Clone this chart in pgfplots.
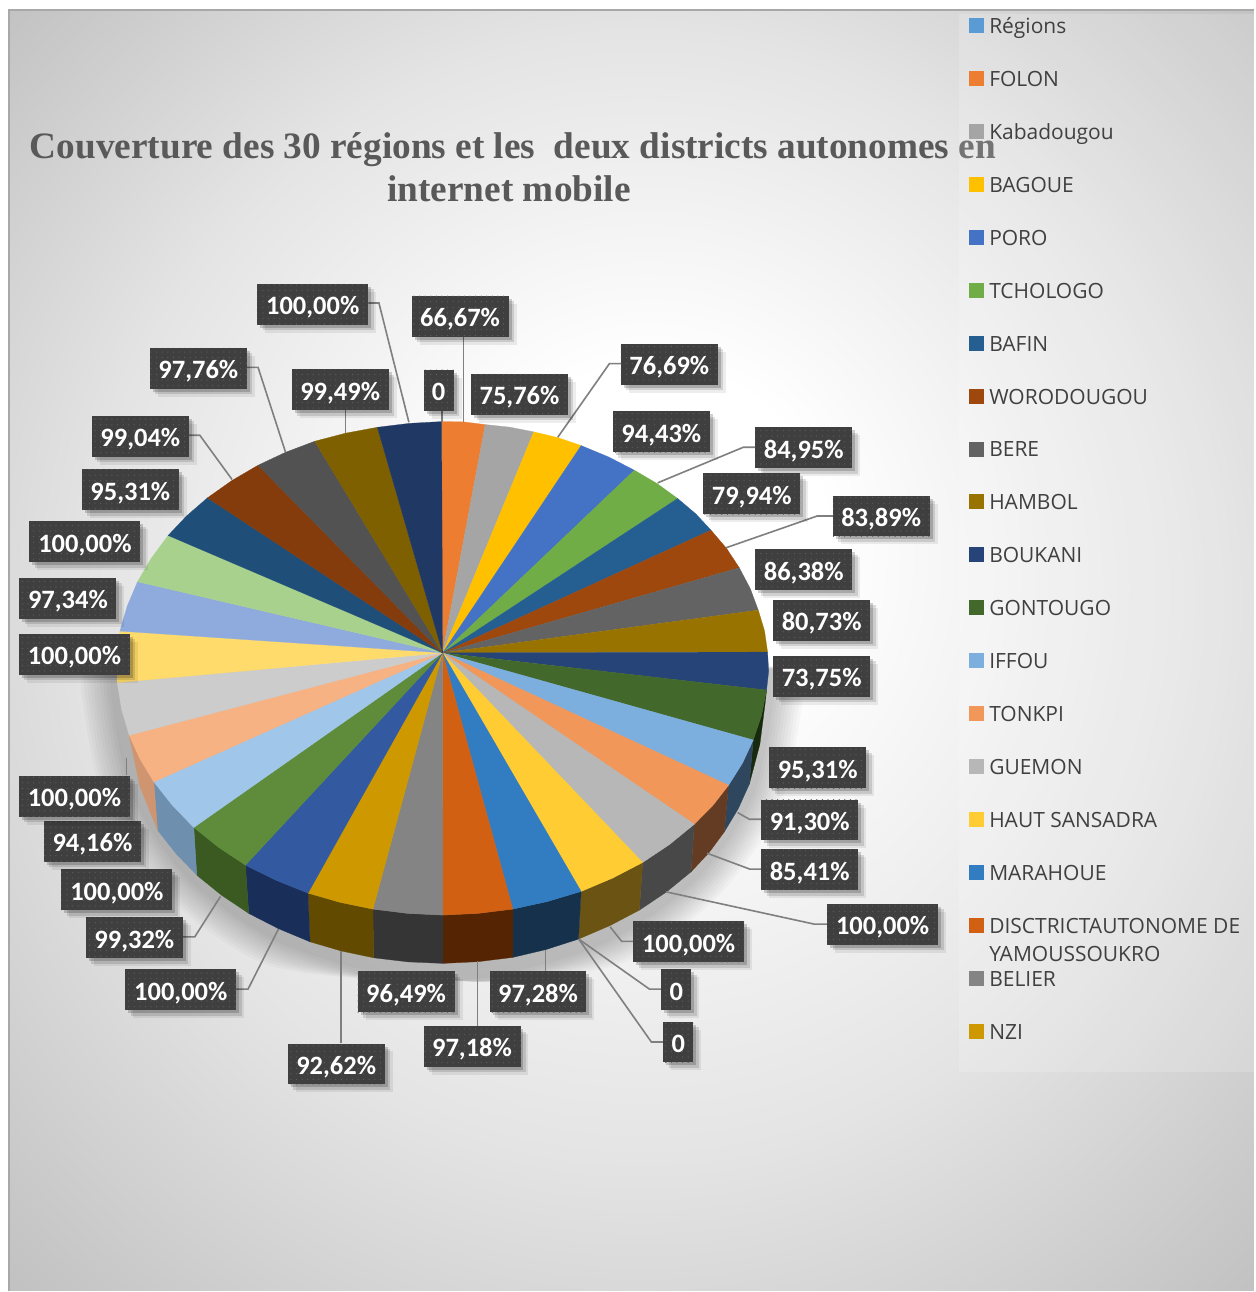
\documentclass[border=0pt]{standalone}
\usepackage{fontspec}
\usepackage{pgfplots}
\usepackage{pgfplotstable}
\usetikzlibrary{shadows,patterns.meta}
\pgfplotsset{compat=1.18}
\setmainfont{Liberation Serif}
\newfontfamily\labfont{Carlito}
\newfontfamily\legfont{Open Sans}

\definecolor{labbg}{HTML}{3F3F3F}
\definecolor{labdot}{HTML}{5E5E5E}
\definecolor{lead}{HTML}{7F7F7F}
\definecolor{bgA}{HTML}{E4E4E4}
\definecolor{bgB}{HTML}{BBBBBB}
\definecolor{titlec}{HTML}{595959}
\definecolor{legc}{HTML}{404040}
\pgfdeclareradialshading{bgshade}{\pgfpoint{1bp}{5bp}}{color(0bp)=(white);color(7bp)=(white);color(22bp)=(bgA);color(38bp)=(bgB)}

% shadow outline, relative to (443,700)
\pgfplotstableread{
x y
325 -30
325 0
305 94
249 177
162 238
56 271
0 275
-56 271
-162 238
-249 177
-305 94
-325 0
-325 -30
}\shadowtab

\tikzset{
  lab/.style={fill=labbg,text=white,inner sep=0pt,minimum height=41pt,minimum width=#1,
    text height=21pt,text depth=0pt,
    font=\labfont\bfseries\fontsize{26.5}{26.5}\selectfont,
    drop shadow={shadow xshift=8pt,shadow yshift=-8pt,opacity=.07,fill=black},
    drop shadow={shadow xshift=5.5pt,shadow yshift=-5.5pt,opacity=.12,fill=black},
    drop shadow={shadow xshift=3pt,shadow yshift=-3pt,opacity=.18,fill=black},
    postaction={pattern={Dots[distance=5.6pt,radius=.65pt]},pattern color=labdot}},
  leg/.style={anchor=base west,inner sep=0pt,text=legc,font=\legfont\fontsize{21}{21}\selectfont},
}
\pgfplotsset{
  sl/.style={fill={#1},draw={#1},line width=.25pt,mark=none},
  ll/.style={draw=lead,line width=1.6pt,mark=none},
  lm/.style={only marks,mark=square*,mark size=7pt,mark options={fill={#1},draw={#1},line width=0pt}},
}

\begin{document}
\begin{tikzpicture}
\begin{axis}[
  scale only axis,width=1255pt,height=1292pt,
  xmin=0,xmax=1255,ymin=0,ymax=1292,y dir=reverse,
  hide axis,clip=false,
]
% page and background
\fill[white] (axis cs:0,0) rectangle (axis cs:1255,1292);
\shade[shading=bgshade] (axis cs:9,10) rectangle (axis cs:1255,1292);
\draw[color=bgB!90!black,line width=2.5pt] (axis cs:9,1292) -- (axis cs:9,10) -- (axis cs:1255,10);

% title
\node[text=titlec,font=\bfseries\fontsize{37.3}{37.3}\selectfont,inner sep=0pt,anchor=base] at (axis cs:513.5,159) {Couverture des 30 régions et les\ \ deux districts autonomes en};
\node[text=titlec,font=\bfseries\fontsize{37.3}{37.3}\selectfont,inner sep=0pt,anchor=base] at (axis cs:509.5,202) {internet mobile};

% legend panel
\fill[white,opacity=.17] (axis cs:960,14) rectangle (axis cs:1255,1073);
\addplot[lm={rgb,255:red,91;green,155;blue,213}] coordinates {(977,26)};
\addplot[lm={rgb,255:red,237;green,125;blue,49}] coordinates {(977,79)};
\addplot[lm={rgb,255:red,165;green,165;blue,165}] coordinates {(977,132)};
\addplot[lm={rgb,255:red,255;green,192;blue,0}] coordinates {(977,185)};
\addplot[lm={rgb,255:red,68;green,114;blue,196}] coordinates {(977,238)};
\addplot[lm={rgb,255:red,112;green,173;blue,71}] coordinates {(977,291)};
\addplot[lm={rgb,255:red,37;green,94;blue,145}] coordinates {(977,344)};
\addplot[lm={rgb,255:red,158;green,72;blue,14}] coordinates {(977,397)};
\addplot[lm={rgb,255:red,99;green,99;blue,99}] coordinates {(977,450)};
\addplot[lm={rgb,255:red,153;green,115;blue,0}] coordinates {(977,502)};
\addplot[lm={rgb,255:red,38;green,68;blue,120}] coordinates {(977,555)};
\addplot[lm={rgb,255:red,67;green,104;blue,43}] coordinates {(977,608)};
\addplot[lm={rgb,255:red,124;green,175;blue,221}] coordinates {(977,661)};
\addplot[lm={rgb,255:red,241;green,151;blue,90}] coordinates {(977,714)};
\addplot[lm={rgb,255:red,183;green,183;blue,183}] coordinates {(977,767)};
\addplot[lm={rgb,255:red,255;green,205;blue,51}] coordinates {(977,820)};
\addplot[lm={rgb,255:red,50;green,125;blue,194}] coordinates {(977,873)};
\addplot[lm={rgb,255:red,210;green,96;blue,18}] coordinates {(977,926)};
\addplot[lm={rgb,255:red,132;green,132;blue,132}] coordinates {(977,979)};
\addplot[lm={rgb,255:red,206;green,153;blue,0}] coordinates {(977,1032)};
\node[leg] at (axis cs:990,33.5) {Régions};
\node[leg] at (axis cs:990,86.5) {FOLON};
\node[leg] at (axis cs:990,139.5) {Kabadougou};
\node[leg] at (axis cs:990,192.5) {BAGOUE};
\node[leg] at (axis cs:990,245.5) {PORO};
\node[leg] at (axis cs:990,298.5) {TCHOLOGO};
\node[leg] at (axis cs:990,351.5) {BAFIN};
\node[leg] at (axis cs:990,404.5) {WORODOUGOU};
\node[leg] at (axis cs:990,457) {BERE};
\node[leg] at (axis cs:990,509.5) {HAMBOL};
\node[leg] at (axis cs:990,563.2) {BOUKANI};
\node[leg] at (axis cs:990,616.2) {GONTOUGO};
\node[leg] at (axis cs:990,669.2) {IFFOU};
\node[leg] at (axis cs:990,722.2) {TONKPI};
\node[leg] at (axis cs:990,775.2) {GUEMON};
\node[leg] at (axis cs:990,828.2) {HAUT SANSADRA};
\node[leg] at (axis cs:990,881.2) {MARAHOUE};
\node[leg] at (axis cs:990,934.2) {DISCTRICTAUTONOME DE};
\node[leg] at (axis cs:990,962.7) {YAMOUSSOUKRO};
\node[leg] at (axis cs:990,987.2) {BELIER};
\node[leg] at (axis cs:990,1040.2) {NZI};

% shadow under the pie
\pgfplotsinvokeforeach{1.11,1.10,1.09,1.08,1.07,1.06,1.05,1.04,1.03,1.02}{
  \addplot[fill=black,draw=none,opacity=.024,smooth,mark=none] table[x expr={443+\thisrow{x}*#1},y expr={min(981,700+\thisrow{y}*#1)}] {\shadowtab} -- cycle;
}

% pie sides
\addplot[sl={rgb,255:red,23;green,42;blue,14}] coordinates {(767.3,690.7) (762.3,716) (754,740.7) (750,785) (760.6,745) (766,703)} -- cycle;
\addplot[sl={rgb,255:red,46;green,70;blue,94}] coordinates {(754,740.7) (743.2,763.9) (729.3,786) (725,832.7) (739,809.4) (750,785)} -- cycle;
\addplot[sl={rgb,255:red,99;green,60;blue,35}] coordinates {(729.3,786) (713.5,806.3) (695,825) (691.7,872.7) (709.7,853.5) (725,832.7)} -- cycle;
\addplot[sl={rgb,255:red,72;green,72;blue,72}] coordinates {(695,825) (670.3,845.2) (643.3,863.3) (640,911) (667,892.9) (691.7,872.7)} -- cycle;
\addplot[sl={rgb,255:red,106;green,83;blue,19}] coordinates {(643.3,863.3) (613.3,878.9) (581.7,892.3) (579,940) (610.3,926.6) (640,911)} -- cycle;
\addplot[sl={rgb,255:red,21;green,49;blue,75}] coordinates {(581.7,892.3) (548,902.4) (513.3,910) (513.3,958.3) (546.7,950.4) (579,940)} -- cycle;
\addplot[sl={rgb,255:red,85;green,36;blue,3}] coordinates {(513.3,910) (478.5,914.3) (443.3,916) (443.3,964.3) (478.5,962.6) (513.3,958.3)} -- cycle;
\addplot[sl={rgb,255:red,53;green,53;blue,53}] coordinates {(443.3,916) (408.1,914.3) (373.3,910) (374,958.7) (408.5,962.8) (443.3,964.3)} -- cycle;
\addplot[sl={rgb,255:red,98;green,74;blue,0}] coordinates {(373.3,910) (340.3,903.2) (308.3,894) (310.3,942.7) (341.7,951.9) (374,958.7)} -- cycle;
\addplot[sl={rgb,255:red,26;green,46;blue,90}] coordinates {(308.3,894) (276.2,881.1) (245.7,866) (249,914.3) (278.9,929.6) (310.3,942.7)} -- cycle;
\addplot[sl={rgb,255:red,58;green,90;blue,34}] coordinates {(245.7,866) (218.8,848.2) (194,828.3) (197,876) (221.9,896.2) (249,914.3)} -- cycle;
\addplot[sl={rgb,255:red,111;green,143;blue,175}] coordinates {(194,828.3) (172.7,806.3) (154,782.7) (157.7,831) (176.1,854.3) (197,876)} -- cycle;
\addplot[sl={rgb,255:red,206;green,149;blue,112}] coordinates {(154,782.7) (140.2,759.9) (129.3,736) (140,787) (157.7,831)} -- cycle;

% pie top, clockwise from twelve o'clock
\addplot[sl={rgb,255:red,237;green,125;blue,49}] coordinates {(443,653.5) (442,422) (464,422.3) (485.7,425)} -- cycle;
\addplot[sl={rgb,255:red,165;green,165;blue,165}] coordinates {(443,653.5) (485.7,425) (510.3,427.6) (534.3,432.3)} -- cycle;
\addplot[sl={rgb,255:red,255;green,192;blue,0}] coordinates {(443,653.5) (534.3,432.3) (558.6,438.1) (581.7,446)} -- cycle;
\addplot[sl={rgb,255:red,68;green,114;blue,196}] coordinates {(443,653.5) (581.7,446) (609.2,457.4) (635,470.7)} -- cycle;
\addplot[sl={rgb,255:red,112;green,173;blue,71}] coordinates {(443,653.5) (635,470.7) (657.8,484.1) (678.3,499)} -- cycle;
\addplot[sl={rgb,255:red,37;green,94;blue,145}] coordinates {(443,653.5) (678.3,499) (696.3,514.2) (711.7,530.7)} -- cycle;
\addplot[sl={rgb,255:red,158;green,72;blue,14}] coordinates {(443,653.5) (711.7,530.7) (727.3,549) (740,568.3)} -- cycle;
\addplot[sl={rgb,255:red,99;green,99;blue,99}] coordinates {(443,653.5) (740,568.3) (751,589.2) (759,610.7)} -- cycle;
\addplot[sl={rgb,255:red,153;green,115;blue,0}] coordinates {(443,653.5) (759,610.7) (765.3,631.6) (768.3,652.7)} -- cycle;
\addplot[sl={rgb,255:red,38;green,68;blue,120}] coordinates {(443,653.5) (768.3,652.7) (769.4,671.8) (767.3,690.7)} -- cycle;
\addplot[sl={rgb,255:red,67;green,104;blue,43}] coordinates {(443,653.5) (767.3,690.7) (762.3,716) (754,740.7)} -- cycle;
\addplot[sl={rgb,255:red,124;green,175;blue,221}] coordinates {(443,653.5) (754,740.7) (743.2,763.9) (729.3,786)} -- cycle;
\addplot[sl={rgb,255:red,241;green,151;blue,90}] coordinates {(443,653.5) (729.3,786) (713.5,806.3) (695,825)} -- cycle;
\addplot[sl={rgb,255:red,183;green,183;blue,183}] coordinates {(443,653.5) (695,825) (670.3,845.2) (643.3,863.3)} -- cycle;
\addplot[sl={rgb,255:red,255;green,205;blue,51}] coordinates {(443,653.5) (643.3,863.3) (613.3,878.9) (581.7,892.3)} -- cycle;
\addplot[sl={rgb,255:red,50;green,125;blue,194}] coordinates {(443,653.5) (581.7,892.3) (548,902.4) (513.3,910)} -- cycle;
\addplot[sl={rgb,255:red,210;green,96;blue,18}] coordinates {(443,653.5) (513.3,910) (478.5,914.3) (443.3,916)} -- cycle;
\addplot[sl={rgb,255:red,132;green,132;blue,132}] coordinates {(443,653.5) (443.3,916) (408.1,914.3) (373.3,910)} -- cycle;
\addplot[sl={rgb,255:red,206;green,153;blue,0}] coordinates {(443,653.5) (373.3,910) (340.3,903.2) (308.3,894)} -- cycle;
\addplot[sl={rgb,255:red,51;green,90;blue,161}] coordinates {(443,653.5) (308.3,894) (276.2,881.1) (245.7,866)} -- cycle;
\addplot[sl={rgb,255:red,94;green,140;blue,58}] coordinates {(443,653.5) (245.7,866) (218.8,848.2) (194,828.3)} -- cycle;
\addplot[sl={rgb,255:red,160;green,198;blue,233}] coordinates {(443,653.5) (194,828.3) (172.7,806.3) (154,782.7)} -- cycle;
\addplot[sl={rgb,255:red,247;green,178;blue,131}] coordinates {(443,653.5) (154,782.7) (140.2,759.9) (129.3,736)} -- cycle;
\addplot[sl={rgb,255:red,204;green,204;blue,204}] coordinates {(443,653.5) (129.3,736) (121.7,710) (117.3,683.3)} -- cycle;
\addplot[sl={rgb,255:red,255;green,219;blue,107}] coordinates {(443,653.5) (117.3,683.3) (117.1,657.5) (120,631.7)} -- cycle;
\addplot[sl={rgb,255:red,143;green,170;blue,220}] coordinates {(443,653.5) (120,631.7) (127.3,606.8) (137.7,582.3)} -- cycle;
\addplot[sl={rgb,255:red,169;green,209;blue,142}] coordinates {(443,653.5) (137.7,582.3) (151.5,558.7) (168.3,536)} -- cycle;
\addplot[sl={rgb,255:red,31;green,78;blue,121}] coordinates {(443,653.5) (168.3,536) (186.7,516.5) (207.7,498.3)} -- cycle;
\addplot[sl={rgb,255:red,132;green,60;blue,12}] coordinates {(443,653.5) (207.7,498.3) (232,481.1) (258.3,465.7)} -- cycle;
\addplot[sl={rgb,255:red,82;green,82;blue,82}] coordinates {(443,653.5) (258.3,465.7) (285.9,452.7) (315,441.7)} -- cycle;
\addplot[sl={rgb,255:red,127;green,96;blue,0}] coordinates {(443,653.5) (315,441.7) (345.9,433.6) (377.7,427.7)} -- cycle;
\addplot[sl={rgb,255:red,32;green,56;blue,100}] coordinates {(443,653.5) (377.7,427.7) (409.7,423.8) (442,422)} -- cycle;

% leader lines
\addplot[ll] coordinates {(368.7,303.3) (379.3,303.3) (409.3,422.7)};
\addplot[ll] coordinates {(247,367.7) (258.3,367.7) (285.7,452.3)};
\addplot[ll] coordinates {(189,435.7) (200,435.7) (232.3,480)};
\addplot[ll] coordinates {(345.7,410.7) (345.7,433)};
\addplot[ll] coordinates {(442.3,410.7) (442.3,422)};
\addplot[ll] coordinates {(464,336.7) (464,422.7)};
\addplot[ll] coordinates {(622,364) (610,364) (558.3,437.7)};
\addplot[ll] coordinates {(756,447.7) (744,447.7) (658.3,483.3)};
\addplot[ll] coordinates {(726.7,548.3) (818,516.5) (834,516.5)};
\addplot[ll] coordinates {(738.3,813.3) (750,820) (762,820)};
\addplot[ll] coordinates {(707.7,854) (750.7,870) (762,870)};
\addplot[ll] coordinates {(666.7,892.7) (815,925) (828,925)};
\addplot[ll] coordinates {(610.7,927.7) (622.3,942.3) (634,942.3)};
\addplot[ll] coordinates {(579.3,940) (650,990) (662,990)};
\addplot[ll] coordinates {(579.3,940) (652,1043) (664,1043)};
\addplot[ll] coordinates {(546,950.7) (546,972)};
\addplot[ll] coordinates {(478,962.3) (478,1027)};
\addplot[ll] coordinates {(341.3,951.7) (341.3,1044)};
\addplot[ll] coordinates {(278.7,930) (248.3,990) (236,990)};
\addplot[ll] coordinates {(220.7,897.3) (195,937.7) (182.7,937.7)};
\addplot[ll] coordinates {(126.7,758.3) (126.7,776)};

% data labels
\node[lab=97pt] at (axis cs:460.5,316.5) {66,67\%};
\node[lab=97pt] at (axis cs:520,394.5) {75,76\%};
\node[lab=97pt] at (axis cs:670,364.8) {76,69\%};
\node[lab=97pt] at (axis cs:662,432.3) {94,43\%};
\node[lab=97pt] at (axis cs:804.5,448.3) {84,95\%};
\node[lab=97pt] at (axis cs:752.5,494.3) {79,94\%};
\node[lab=97pt] at (axis cs:882,516.5) {83,89\%};
\node[lab=97pt] at (axis cs:804.5,570.3) {86,38\%};
\node[lab=97pt] at (axis cs:822.5,620.8) {80,73\%};
\node[lab=97pt] at (axis cs:822.5,676.8) {73,75\%};
\node[lab=97pt] at (axis cs:818.5,768.3) {95,31\%};
\node[lab=97pt] at (axis cs:810.5,820.8) {91,30\%};
\node[lab=97pt] at (axis cs:810.5,870.8) {85,41\%};
\node[lab=111pt] at (axis cs:883.5,925) {100,00\%};
\node[lab=111pt] at (axis cs:689.3,942.8) {100,00\%};
\node[lab=30pt] at (axis cs:677,990.5) {0};
\node[lab=30pt] at (axis cs:679,1043) {0};
\node[lab=97pt] at (axis cs:538.5,992.5) {97,28\%};
\node[lab=97pt] at (axis cs:472.5,1047.5) {97,18\%};
\node[lab=97pt] at (axis cs:406.5,992.5) {96,49\%};
\node[lab=97pt] at (axis cs:336.5,1065) {92,62\%};
\node[lab=111pt] at (axis cs:181,990.8) {100,00\%};
\node[lab=97pt] at (axis cs:134.5,938.5) {99,32\%};
\node[lab=111pt] at (axis cs:117,890.4) {100,00\%};
\node[lab=97pt] at (axis cs:92.5,842.3) {94,16\%};
\node[lab=111pt] at (axis cs:74.5,796.8) {100,00\%};
\node[lab=111pt] at (axis cs:74.5,655) {100,00\%};
\node[lab=97pt] at (axis cs:68,599) {97,34\%};
\node[lab=111pt] at (axis cs:85,542.3) {100,00\%};
\node[lab=97pt] at (axis cs:130.5,490.3) {95,31\%};
\node[lab=97pt] at (axis cs:140.5,436.8) {99,04\%};
\node[lab=97pt] at (axis cs:198.5,368.5) {97,76\%};
\node[lab=97pt] at (axis cs:340.5,390.3) {99,49\%};
\node[lab=30pt] at (axis cs:439,390.5) {0};
\node[lab=111pt] at (axis cs:313,304.5) {100,00\%};
\end{axis}
\end{tikzpicture}
\end{document}
